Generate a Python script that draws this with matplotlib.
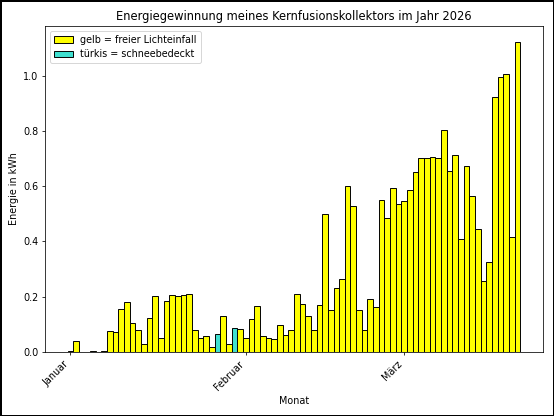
import numpy as np
import matplotlib
matplotlib.use("Agg")
import matplotlib.pyplot as plt
import matplotlib.dates as mdates
from matplotlib.patches import Patch
from matplotlib.ticker import FuncFormatter

# Tageswerte ab 1. Januar 2026 (kWh)
start = np.datetime64("2026-01-01")
energie = [
    0.003, 0.040, 0.000, 0.001, 0.004, 0.001, 0.004, 0.076, 0.071, 0.154,
    0.182, 0.103, 0.080, 0.028, 0.123, 0.204, 0.052, 0.185, 0.207, 0.202,
    0.207, 0.210, 0.078, 0.050, 0.056, 0.019, 0.064, 0.131, 0.028, 0.088,
    0.082, 0.049, 0.118, 0.165, 0.057, 0.052, 0.047, 0.097, 0.061, 0.081,
    0.210, 0.172, 0.131, 0.081, 0.168, 0.498, 0.151, 0.233, 0.263, 0.601,
    0.528, 0.151, 0.081, 0.192, 0.162, 0.549, 0.483, 0.592, 0.534, 0.545,
    0.587, 0.651, 0.700, 0.703, 0.705, 0.703, 0.804, 0.654, 0.711, 0.407,
    0.672, 0.565, 0.443, 0.257, 0.327, 0.922, 0.996, 1.005, 0.417, 1.123,
]
schnee_tage = [26, 29]  # Index der schneebedeckten Tage

monate = ["Januar", "Februar", "März", "April", "Mai", "Juni", "Juli",
          "August", "September", "Oktober", "November", "Dezember"]

tage = start + np.arange(len(energie)).astype("timedelta64[D]")
tage = tage.astype("datetime64[s]").astype(object)
farben = ["turquoise" if i in schnee_tage else "yellow" for i in range(len(energie))]

dpi = 69.25
fig, ax = plt.subplots(figsize=(554 / dpi, 416 / dpi), dpi=dpi)
fig.patch.set_edgecolor("black")
fig.patch.set_linewidth(1.5)

ax.bar(tage, energie, width=1.0, color=farben, edgecolor="black", linewidth=1.0)

ax.xaxis.set_major_locator(mdates.MonthLocator())
ax.xaxis.set_major_formatter(FuncFormatter(lambda x, pos: monate[mdates.num2date(x).month - 1]))
plt.setp(ax.get_xticklabels(), rotation=45, ha="right")

ax.set_title("Energiegewinnung meines Kernfusionskollektors im Jahr 2026")
ax.set_xlabel("Monat")
ax.set_ylabel("Energie in kWh")

ax.legend(handles=[Patch(facecolor="yellow", edgecolor="black", label="gelb = freier Lichteinfall"),
                   Patch(facecolor="turquoise", edgecolor="black", label="türkis = schneebedeckt")],
          loc="upper left")

fig.subplots_adjust(left=0.081, right=0.980, top=0.9375, bottom=0.154)
fig.savefig("out.png", dpi=dpi, edgecolor=fig.get_edgecolor())
